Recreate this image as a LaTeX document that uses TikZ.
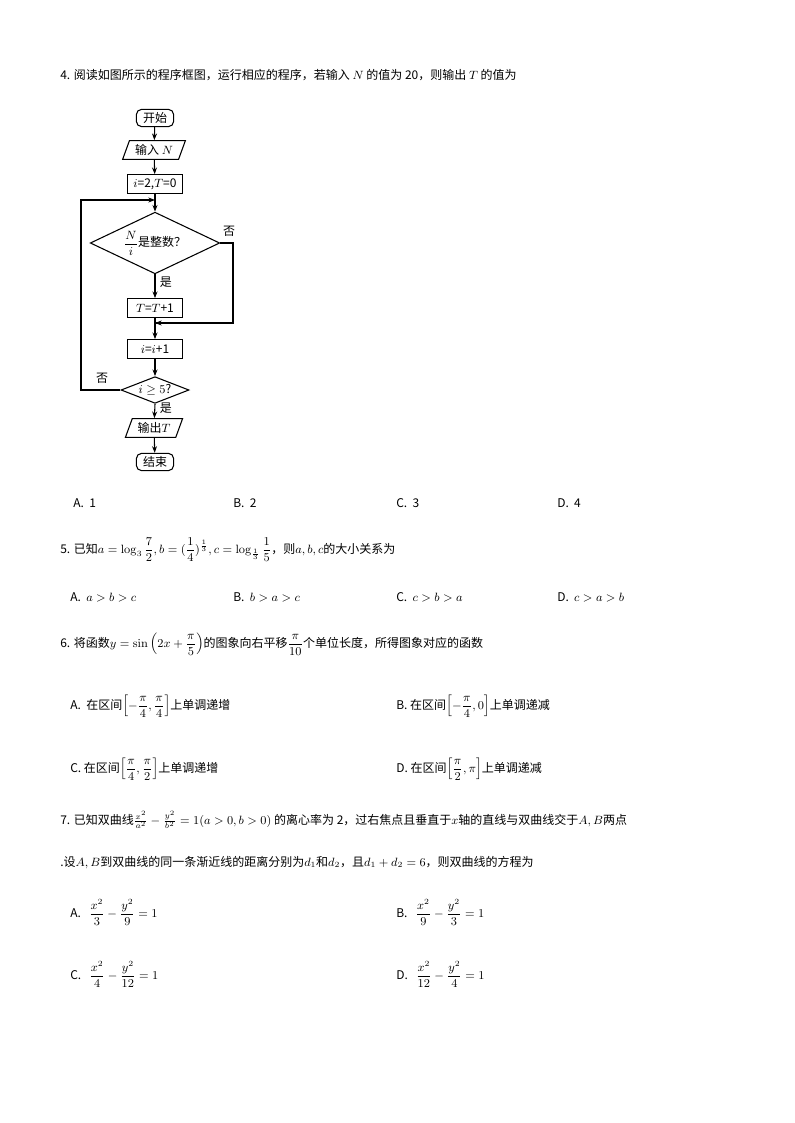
\documentclass[tikz,border=0pt]{standalone}
\usepackage{amsmath,amssymb}
\usepackage[no-math]{fontspec}
\setmainfont{Noto Sans CJK SC}
\usetikzlibrary{shapes.geometric,arrows.meta}
\begin{document}
\begin{tikzpicture}[x=0.75pt,y=-0.75pt,
  txt/.style={anchor=base west,inner sep=0pt,font=\fontsize{9}{11}\selectfont},
  fc/.style={draw,thick,inner sep=2pt,font=\fontsize{9}{11}\selectfont},
  termbox/.style={fc,rounded corners=4pt,minimum width=28pt,minimum height=13pt},
  rectbox/.style={fc,minimum width=41pt,minimum height=14pt},
  iobox/.style={fc,trapezium,trapezium left angle=70,trapezium right angle=110,minimum width=40pt,minimum height=14pt},
  dia/.style={fc,diamond,aspect=2.1},
  arr/.style={thick,-{Stealth[length=5pt]}}]
\useasboundingbox (0,0) rectangle (794,1123);
% Question 4
\node[txt] (q4) at (60,80) {4. 阅读如图所示的程序框图，运行相应的程序，若输入 $N$ 的值为 20，则输出 $T$ 的值为};
% flowchart
\node[termbox] (start) at (155,118) {开始};
\node[iobox] (in) at (154,150) {输入 $N$};
\node[rectbox] (init) at (155,184) {$i$=2,$T$=0};
\coordinate (j1) at (155,200);
\node[dia,minimum width=96pt,minimum height=45pt] (d1) at (155,243) {$\dfrac{N}{i}$是整数？};
\node[rectbox] (t1) at (155,308) {$T$=$T$+1};
\coordinate (j2) at (155,323);
\node[rectbox] (i1) at (155,349) {$i$=$i$+1};
\node[dia,minimum width=51pt,minimum height=20pt,inner sep=0pt] (d2) at (155,390) {$i\geq5$?};
\node[iobox] (out) at (154,428) {输出$T$};
\node[termbox] (end) at (155,462) {结束};
\draw[arr] (start) -- (in);
\draw[arr] (in) -- (init);
\draw[thick] (init) -- (j1);
\draw[arr] (j1) -- (d1.north);
\draw[arr] (d1.south) -- node[right,font=\fontsize{9}{11}\selectfont,pos=0.35]{是} (t1);
\draw[thick] (d1.east) -- (233,243) |- (j2);
\draw[arr] (233,323) -- (j2);
\draw[thick] (t1) -- (j2);
\draw[arr] (j2) -- (i1);
\draw[arr] (i1) -- (d2.north);
\draw[arr] (d2.south) -- node[right,font=\fontsize{9}{11}\selectfont,pos=0.3]{是} (out);
\draw[arr] (out) -- (end);
\draw[arr] (d2.west) -- (81,390) -- (81,200) -- (j1);
\node[font=\fontsize{9}{11}\selectfont] (no1) at (229,231) {否};
\node[font=\fontsize{9}{11}\selectfont] (no2) at (102,378) {否};
% options 4
\node[txt] (a4) at (73,507) {A.\ \ 1};
\node[txt] (b4) at (233,507) {B.\ \ 2};
\node[txt] (c4) at (396,507) {C.\ \ 3};
\node[txt] (d4) at (557,507) {D.\ \ 4};
% Question 5
\node[txt] (q5) at (60,553) {5. 已知$a=\log_3\dfrac72,b=(\dfrac14)^{\frac13},c=\log_{\frac13}\dfrac15$，则$a,b,c$的大小关系为};
\node[txt] (a5) at (70,601) {A.\ \ $a>b>c$};
\node[txt] (b5) at (233,601) {B.\ \ $b>a>c$};
\node[txt] (c5) at (396,601) {C.\ \ $c>b>a$};
\node[txt] (d5) at (557,601) {D.\ \ $c>a>b$};
% Question 6
\node[txt] (q6) at (60,647) {6. 将函数$y=\sin\left(2x+\dfrac{\pi}{5}\right)$的图象向右平移$\dfrac{\pi}{10}$个单位长度，所得图象对应的函数};
\node[txt] (a6) at (70,709) {A.\ \ 在区间$\left[-\dfrac{\pi}{4},\dfrac{\pi}{4}\right]$上单调递增};
\node[txt] (b6) at (396,709) {B.\ 在区间$\left[-\dfrac{\pi}{4},0\right]$上单调递减};
\node[txt] (c6) at (70,772) {C.\ 在区间$\left[\dfrac{\pi}{4},\dfrac{\pi}{2}\right]$上单调递增};
\node[txt] (d6) at (396,772) {D.\ 在区间$\left[\dfrac{\pi}{2},\pi\right]$上单调递减};
% Question 7
\node[txt] (q7) at (60,824) {7. 已知双曲线$\frac{x^2}{a^2}-\frac{y^2}{b^2}=1(a>0,b>0)$\ 的离心率为 2，过右焦点且垂直于$x$轴的直线与双曲线交于$A,B$两点};
\node[txt] (q7b) at (60,866) {.设$A,B$到双曲线的同一条渐近线的距离分别为$d_1$和$d_2$，且$d_1+d_2=6$，则双曲线的方程为};
\node[txt] (a7) at (70,917) {A.\ \ \ $\dfrac{x^2}{3}-\dfrac{y^2}{9}=1$};
\node[txt] (b7) at (396,917) {B.\ \ \ $\dfrac{x^2}{9}-\dfrac{y^2}{3}=1$};
\node[txt] (c7) at (70,979) {C.\ \ \ $\dfrac{x^2}{4}-\dfrac{y^2}{12}=1$};
\node[txt] (d7) at (396,979) {D.\ \ \ $\dfrac{x^2}{12}-\dfrac{y^2}{4}=1$};
\end{tikzpicture}
\end{document}
